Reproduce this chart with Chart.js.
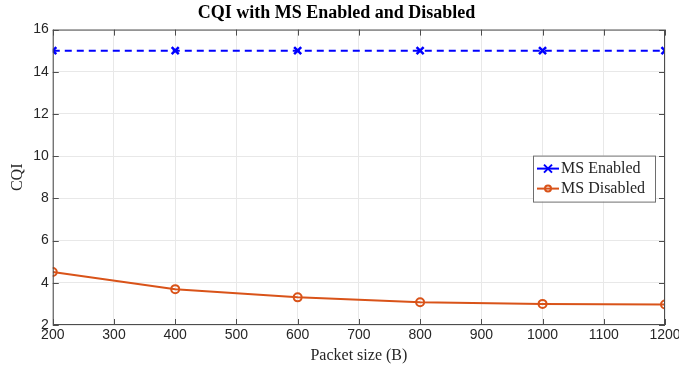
<!DOCTYPE html>
<html>
<head>
<meta charset="utf-8">
<script src="https://cdn.jsdelivr.net/npm/chart.js@4.4.0/dist/chart.umd.min.js"></script>
<style>
  html, body { margin: 0; padding: 0; background: #fff; }
  #wrap { width: 679px; height: 368px; }
</style>
</head>
<body>
<div id="wrap"><canvas id="cqiChart" width="679" height="368"></canvas></div>
<script>
const packetSizes = [200, 400, 600, 800, 1000, 1200];
const msEnabled = [15, 15, 15, 15, 15, 15];
const msDisabled = [4.51, 3.70, 3.31, 3.08, 3.00, 2.97];
const seriesNames = ['MS Enabled', 'MS Disabled'];

const blue = '#0000ff';
const orange = '#d95319';
const axisColor = '#262626';

// MATLAB-style box with inward ticks and an inside legend
const boxPlugin = {
    id: 'boxPlugin',
    afterDraw(chart) {
        const { ctx, chartArea: a, scales } = chart;
        ctx.save();
        ctx.strokeStyle = '#4d4d4d';
        ctx.lineWidth = 1;
        ctx.strokeRect(a.left + 0.5, a.top + 0.5, a.right - a.left - 1, a.bottom - a.top - 1);
        ctx.beginPath();
        scales.x.ticks.forEach(t => {
            const px = Math.round(scales.x.getPixelForValue(t.value)) + 0.5;
            ctx.moveTo(px, a.bottom); ctx.lineTo(px, a.bottom - 6);
            ctx.moveTo(px, a.top); ctx.lineTo(px, a.top + 6);
        });
        scales.y.ticks.forEach(t => {
            const py = Math.round(scales.y.getPixelForValue(t.value)) + 0.5;
            ctx.moveTo(a.left, py); ctx.lineTo(a.left + 6, py);
            ctx.moveTo(a.right, py); ctx.lineTo(a.right - 6, py);
        });
        ctx.stroke();

        // legend
        const lx = a.right - 132, ly = a.top + 126, lw = 122, lh = 46;
        ctx.fillStyle = '#fff';
        ctx.fillRect(lx, ly, lw, lh);
        ctx.strokeStyle = '#6e6e6e';
        ctx.strokeRect(lx + 0.5, ly + 0.5, lw, lh);
        ctx.font = '16px "Liberation Serif", "Times New Roman", serif';
        ctx.textBaseline = 'middle';
        chart.data.datasets.forEach((ds, i) => {
            const y = ly + 13 + i * 20;
            ctx.strokeStyle = ds.borderColor;
            ctx.lineWidth = 2;
            ctx.setLineDash([]);
            ctx.beginPath();
            ctx.moveTo(lx + 4, y); ctx.lineTo(lx + 26, y);
            ctx.stroke();
            const cx = lx + 15;
            ctx.beginPath();
            if (ds.pointStyle === 'crossRot') {
                ctx.moveTo(cx - 4, y - 4); ctx.lineTo(cx + 4, y + 4);
                ctx.moveTo(cx - 4, y + 4); ctx.lineTo(cx + 4, y - 4);
            } else {
                ctx.arc(cx, y, 3, 0, Math.PI * 2);
            }
            ctx.stroke();
            ctx.fillStyle = axisColor;
            ctx.fillText(ds.label, lx + 28, y);
        });
        ctx.restore();
    }
};

new Chart(document.getElementById('cqiChart').getContext('2d'), {
    type: 'line',
    data: {
        datasets: [{
            label: seriesNames[0],
            data: packetSizes.map((x, i) => ({ x: x, y: msEnabled[i] })),
            borderColor: blue,
            backgroundColor: blue,
            borderWidth: 2,
            borderDash: [7, 5],
            pointStyle: 'crossRot',
            pointRadius: 5,
            pointBorderWidth: 2.5,
            fill: false
        }, {
            label: seriesNames[1],
            data: packetSizes.map((x, i) => ({ x: x, y: msDisabled[i] })),
            borderColor: orange,
            backgroundColor: 'rgba(0,0,0,0)',
            borderWidth: 2,
            pointStyle: 'circle',
            pointRadius: 4,
            pointBorderWidth: 2,
            fill: false
        }]
    },
    options: {
        responsive: false,
        animation: false,
        layout: { padding: { left: 8, right: 14, top: 0, bottom: 1 } },
        scales: {
            x: {
                type: 'linear',
                min: 200,
                max: 1200,
                afterFit: s => { s.paddingRight = 0; },
                ticks: {
                    stepSize: 100,
                    color: axisColor,
                    padding: 2,
                    maxRotation: 0,
                    callback: v => String(v),
                    font: { family: '"Liberation Sans", Arial, sans-serif', size: 14 }
                },
                grid: { color: '#e8e8e8', drawTicks: false },
                border: { display: false },
                title: {
                    display: true,
                    text: 'Packet size (B)',
                    color: axisColor,
                    padding: { top: 0, bottom: 2 },
                    font: { family: '"Liberation Serif", "Times New Roman", serif', size: 16 }
                }
            },
            y: {
                min: 2,
                max: 16,
                ticks: {
                    stepSize: 2,
                    color: axisColor,
                    padding: 4,
                    font: { family: '"Liberation Sans", Arial, sans-serif', size: 14 }
                },
                grid: { color: '#e8e8e8', drawTicks: false },
                border: { display: false },
                title: {
                    display: true,
                    text: 'CQI',
                    color: axisColor,
                    padding: { top: 0, bottom: 2 },
                    font: { family: '"Liberation Serif", "Times New Roman", serif', size: 16 }
                }
            }
        },
        plugins: {
            legend: { display: false },
            tooltip: { enabled: false },
            title: {
                display: true,
                text: 'CQI with MS Enabled and Disabled',
                color: '#000',
                padding: { top: 3, bottom: 5 },
                font: { family: '"Liberation Serif", "Times New Roman", serif', size: 18, weight: 'bold' }
            }
        }
    },
    plugins: [boxPlugin]
});
</script>
</body>
</html>
